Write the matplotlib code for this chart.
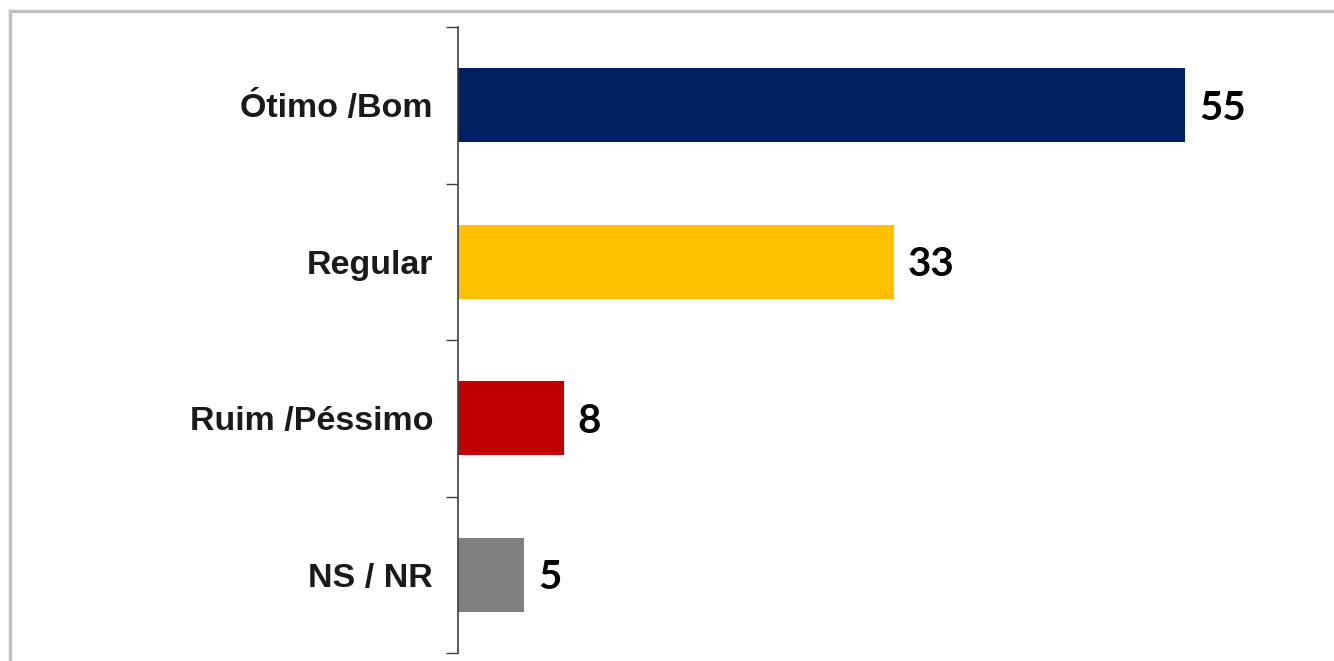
import matplotlib
matplotlib.use("Agg")
import matplotlib.pyplot as plt
from matplotlib.patches import Rectangle
from matplotlib.ticker import FixedLocator

categories = ["Ótimo /Bom", "Regular", "Ruim /Péssimo", "NS / NR"]
values = [55, 33, 8, 5]
colors = ["#002060", "#FFC000", "#C00000", "#808080"]

plt.rcParams['font.family'] = ['Liberation Sans', 'DejaVu Sans']

W, H = 1334, 661
fig = plt.figure(figsize=(W / 100, H / 100), dpi=100)
fig.patch.set_facecolor("white")

# figure border (light gray)
fig.patches.append(Rectangle((9.5 / W, -0.1), 2.0, (H - 10.5) / H + 0.1,
                             transform=fig.transFigure, fill=False,
                             edgecolor="#c0c0c0", linewidth=2.5))

ax_left = 458 / W
ax_bottom = (H - 653) / H
ax_top = (H - 27) / H
ax_width = (60 * 727 / 55) / W
ax = fig.add_axes([ax_left, ax_bottom, ax_width, ax_top - ax_bottom])

n = len(categories)
ypos = list(range(n))
ax.barh(ypos, values, height=0.47, color=colors)
ax.set_xlim(0, 60)
ax.set_ylim(n - 0.5, -0.5)

ax.set_yticks(ypos)
ax.set_yticklabels(categories, fontsize=24.5, fontweight='bold', color='#1a1a1a')
ax.tick_params(axis='y', which='major', length=0, pad=18)
ax.yaxis.set_minor_locator(FixedLocator([i - 0.5 for i in range(n + 1)]))
ax.tick_params(axis='y', which='minor', length=8.5, width=1, color='#404040', direction='out')
ax.set_xticks([])

for s in ['top', 'right', 'bottom']:
    ax.spines[s].set_visible(False)
ax.spines['left'].set_color('#404040')
ax.spines['left'].set_linewidth(1.2)

for y, v in zip(ypos, values):
    ax.annotate(str(v), xy=(v, y), xytext=(10, -2), textcoords='offset points',
                va='center', ha='left', fontsize=29, fontweight='bold', color='black',
                family=['Lato', 'DejaVu Sans'])

fig.savefig("out.png", dpi=100, facecolor="white")
